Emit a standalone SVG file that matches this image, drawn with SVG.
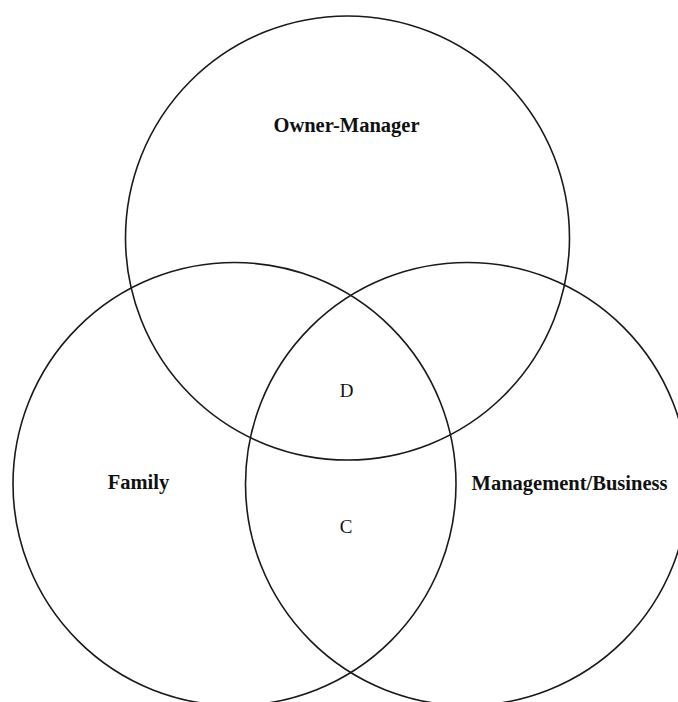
<svg xmlns="http://www.w3.org/2000/svg" width="678" height="702" viewBox="0 0 678 702">
<style>
.c{fill:none;stroke:#1a1a1a;stroke-width:1.6}
.b{font-family:"Liberation Serif","Times New Roman",serif;font-weight:bold;font-size:20.5px;fill:#111;text-anchor:middle}
.r{font-family:"Liberation Serif","Times New Roman",serif;font-size:19px;fill:#111;text-anchor:middle}
</style>
<rect width="678" height="702" fill="#fff"/>
<g id="owner-manager">
<circle class="c" cx="347.5" cy="238" r="222"/>
<text class="b" x="346.5" y="132">Owner-Manager</text>
</g>
<g id="family">
<circle class="c" cx="234.5" cy="484" r="221.5"/>
<text class="b" x="138.5" y="489">Family</text>
</g>
<g id="management-business">
<circle class="c" cx="467" cy="484" r="221.5"/>
<text class="b" x="569.5" y="490">Management/Business</text>
</g>
<g id="labels">
<text class="r" x="346.5" y="397">D</text>
<text class="r" x="346" y="533">C</text>
</g>
<g id="connectors"></g>
</svg>
